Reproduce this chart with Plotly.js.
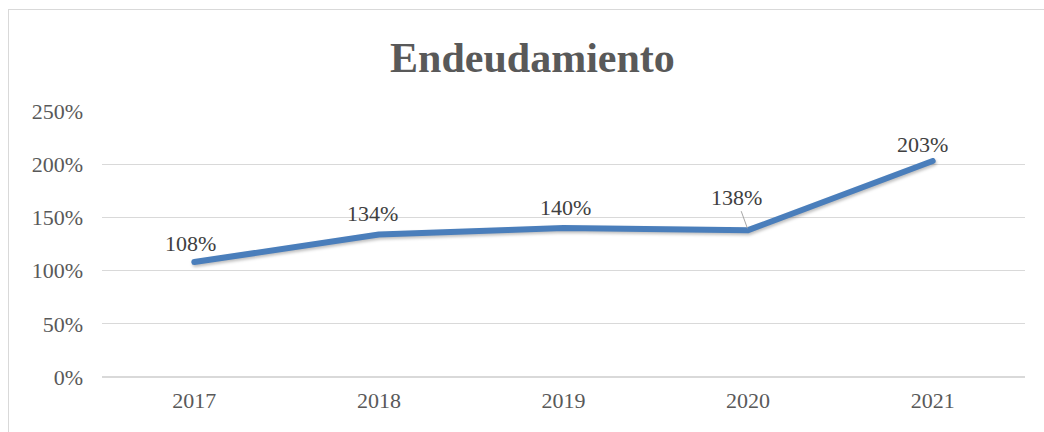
<!DOCTYPE html>
<html>
<head>
<meta charset="utf-8">
<script src="https://cdn.plot.ly/plotly-3.0.1.min.js"></script>
<style>
  html, body { margin: 0; padding: 0; background: #fff; }
  #wrap { position: relative; width: 1044px; height: 432px; overflow: hidden; }
  #chart { position: absolute; left: 0; top: 0; width: 1044px; height: 432px; }
  #frame { position: absolute; left: 8px; top: 9px; width: 1100px; height: 500px;
           border-left: 1px solid #d9d9d9; border-top: 1px solid #d9d9d9; pointer-events: none; }
  #chart .scatterlayer path.js-line { stroke-linecap: round; stroke-linejoin: round;
           filter: drop-shadow(1px 2px 1.5px rgba(0,0,0,0.25)); }
</style>
</head>
<body>
<div id="wrap">
  <div id="chart"></div>
  <div id="frame"></div>
</div>
<script>
const years = ['2017', '2018', '2019', '2020', '2021'];
const endeudamiento = [1.08, 1.34, 1.40, 1.38, 2.03];
const labelTexts = ['108%', '134%', '140%', '138%', '203%'];

// label placement (pixels)
const labelShiftX = [-4, -6, 2, 0, -10];
const labelShiftY = [19, 21, 21, 0, 17];

const trace = {
  x: years,
  y: endeudamiento,
  type: 'scatter',
  mode: 'lines',
  line: { color: '#4a7ebb', width: 6, shape: 'linear' },
  hoverinfo: 'skip'
};

// category axis: annotations are anchored at the category's serial index
const annotations = years.map((yr, i) => {
  const a = {
    x: i, y: endeudamiento[i], xref: 'x', yref: 'y',
    text: labelTexts[i],
    font: { family: 'Liberation Serif, Times New Roman, serif', size: 22, color: '#404040' }
  };
  if (i === 3) {
    a.showarrow = true; a.arrowhead = 0; a.arrowwidth = 1; a.arrowcolor = '#a6a6a6';
    a.ax = -12; a.ay = -33; a.standoff = 2;
  } else {
    a.showarrow = false; a.xshift = labelShiftX[i]; a.yshift = labelShiftY[i];
  }
  return a;
});

const layout = {
  width: 1044, height: 432,
  margin: { l: 102, r: 19, t: 111, b: 55 },
  paper_bgcolor: '#ffffff', plot_bgcolor: '#ffffff',
  showlegend: false,
  title: {
    text: '<b>Endeudamiento</b>',
    font: { family: 'Liberation Serif, Times New Roman, serif', size: 42, color: '#595959' },
    x: 0.51, xanchor: 'center', y: 0.868, yanchor: 'middle'
  },
  xaxis: {
    type: 'category', range: [-0.5, 4.5],
    showgrid: false, zeroline: false, showline: false, ticks: '',
    tickfont: { family: 'Liberation Serif, Times New Roman, serif', size: 22, color: '#595959' },
    ticklabelstandoff: 8
  },
  yaxis: {
    range: [0, 2.5], dtick: 0.5, tick0: 0, tickformat: '.0%',
    showgrid: true, gridcolor: '#d9d9d9', gridwidth: 1,
    zeroline: true, zerolinecolor: '#d9d9d9', zerolinewidth: 1.5,
    showline: false, ticks: '',
    tickfont: { family: 'Liberation Serif, Times New Roman, serif', size: 22, color: '#595959' },
    ticklabelstandoff: 18
  },
  annotations: annotations
};

Plotly.newPlot('chart', [trace], layout, { displayModeBar: false, staticPlot: true });
</script>
</body>
</html>
